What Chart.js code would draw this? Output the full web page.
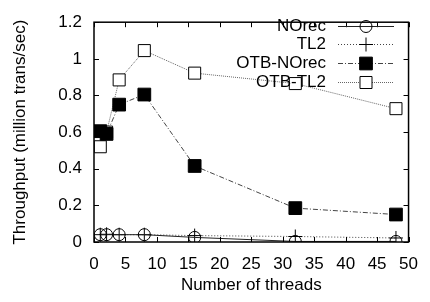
<!DOCTYPE html>
<html lang="en">
<head>
  <meta charset="UTF-8" />
  <title>Throughput vs threads</title>
  <style>
    body { margin: 0; background: white; }
    canvas { display: block; }
  </style>
</head>
<body>
  <canvas id="chart" width="430" height="302"></canvas>

  <script src="https://cdn.jsdelivr.net/npm/chart.js"></script>
  <script>
    const threads = [1, 2, 4, 8, 16, 32, 48];
    const norec = [0.04, 0.04, 0.04, 0.04, 0.025, 0.003, 0.003];
    const tl2 = [0.04, 0.042, 0.04, 0.04, 0.035, 0.03, 0.022];
    const otbNorec = [0.605, 0.59, 0.75, 0.805, 0.415, 0.185, 0.15];
    const otbTl2 = [0.52, 0.6, 0.885, 1.045, 0.922, 0.865, 0.728];
    const seriesNames = ['NOrec', 'TL2', 'OTB-NOrec', 'OTB-TL2'];

    const font = 'Liberation Sans, Arial, sans-serif';
    const fontSize = 17;

    function pts(vals) {
      return threads.map((t, i) => ({ x: t, y: vals[i] }));
    }

    // gnuplot style: ticks pointing inwards on all four sides
    const innerTicks = {
      id: 'innerTicks',
      afterDraw(chart) {
        const ctx = chart.ctx;
        const a = chart.chartArea;
        const xs = chart.scales.x, ys = chart.scales.y;
        ctx.save();
        ctx.strokeStyle = 'black';
        ctx.lineWidth = 1;
        ctx.beginPath();
        xs.ticks.forEach(t => {
          const px = Math.round(xs.getPixelForValue(t.value)) + 0.5;
          ctx.moveTo(px, a.bottom); ctx.lineTo(px, a.bottom - 5);
          ctx.moveTo(px, a.top); ctx.lineTo(px, a.top + 5);
        });
        ys.ticks.forEach(t => {
          const py = Math.round(ys.getPixelForValue(t.value)) + 0.5;
          ctx.moveTo(a.left, py); ctx.lineTo(a.left + 5, py);
          ctx.moveTo(a.right, py); ctx.lineTo(a.right - 5, py);
        });
        ctx.stroke();
        ctx.lineWidth = 1.5;
        ctx.strokeRect(a.left, a.top, a.right - a.left, a.bottom - a.top);
        ctx.restore();
      }
    };

    // legend in the top right corner: text right aligned, sample on the right
    const keyLegend = {
      id: 'keyLegend',
      afterDraw(chart) {
        const ctx = chart.ctx;
        const textRight = 326, x0 = 338, x1 = 394;
        const rows = [26, 44, 63, 82];
        ctx.save();
        ctx.font = fontSize + 'px ' + font;
        ctx.textAlign = 'right';
        ctx.textBaseline = 'middle';
        chart.data.datasets.forEach((ds, i) => {
          const y = rows[i] + 0.5;
          ctx.fillStyle = 'black';
          ctx.fillText(ds.label, textRight, y);
          ctx.strokeStyle = ds.borderColor;
          ctx.lineWidth = ds.borderWidth;
          ctx.setLineDash(ds.borderDash || []);
          ctx.beginPath();
          ctx.moveTo(x0, y); ctx.lineTo(x1, y);
          ctx.stroke();
          ctx.setLineDash([]);
          ctx.fillStyle = ds.pointBackgroundColor;
          ctx.strokeStyle = ds.pointBorderColor;
          ctx.lineWidth = 1;
          Chart.helpers.drawPoint(ctx, {
            pointStyle: ds.pointStyle, radius: ds.pointRadius, borderWidth: 1, rotation: 0
          }, (x0 + x1) / 2, y);
        });
        ctx.restore();
      }
    };

    new Chart(document.getElementById('chart').getContext('2d'), {
      type: 'line',
      data: {
        datasets: [
          {
            label: seriesNames[0], data: pts(norec),
            borderColor: '#222', borderWidth: 1,
            pointStyle: 'circle', pointRadius: 6,
            pointBackgroundColor: 'rgba(0,0,0,0)', pointBorderColor: 'black', pointBorderWidth: 1
          },
          {
            label: seriesNames[1], data: pts(tl2),
            borderColor: '#444', borderWidth: 1, borderDash: [1, 2],
            pointStyle: 'cross', pointRadius: 7,
            pointBackgroundColor: 'rgba(0,0,0,0)', pointBorderColor: 'black', pointBorderWidth: 1
          },
          {
            label: seriesNames[2], data: pts(otbNorec),
            borderColor: '#444', borderWidth: 1, borderDash: [5, 2, 1, 2],
            pointStyle: 'rect', pointRadius: 9,
            pointBackgroundColor: 'black', pointBorderColor: 'black', pointBorderWidth: 1
          },
          {
            label: seriesNames[3], data: pts(otbTl2),
            borderColor: '#666', borderWidth: 1, borderDash: [1, 1],
            pointStyle: 'rect', pointRadius: 8.5,
            pointBackgroundColor: 'white', pointBorderColor: 'black', pointBorderWidth: 1
          }
        ]
      },
      options: {
        responsive: false,
        animation: false,
        layout: { padding: { top: 13, right: 14, left: 0, bottom: 0 } },
        plugins: { legend: { display: false }, tooltip: { enabled: false } },
        elements: { line: { tension: 0 } },
        scales: {
          x: {
            type: 'linear', min: 0, max: 50,
            ticks: { stepSize: 5, color: 'black', font: { family: font, size: fontSize }, padding: 12 },
            grid: { display: false, drawTicks: false },
            border: { display: false },
            title: { display: true, text: 'Number of threads', color: 'black', font: { family: font, size: fontSize }, padding: { top: 4, bottom: 6 } },
            afterFit(s) { s.height = 60; }
          },
          y: {
            min: 0, max: 1.2,
            ticks: {
              stepSize: 0.2, color: 'black', font: { family: font, size: fontSize }, padding: 12,
              callback: v => String(+v.toFixed(1))
            },
            grid: { display: false, drawTicks: false },
            border: { display: false },
            title: { display: true, text: 'Throughput (million trans/sec)', color: 'black', font: { family: font, size: fontSize }, padding: { top: 10, bottom: 0 } },
            afterFit(s) { s.width = 94; }
          }
        }
      },
      plugins: [innerTicks, keyLegend]
    });
  </script>
</body>
</html>
